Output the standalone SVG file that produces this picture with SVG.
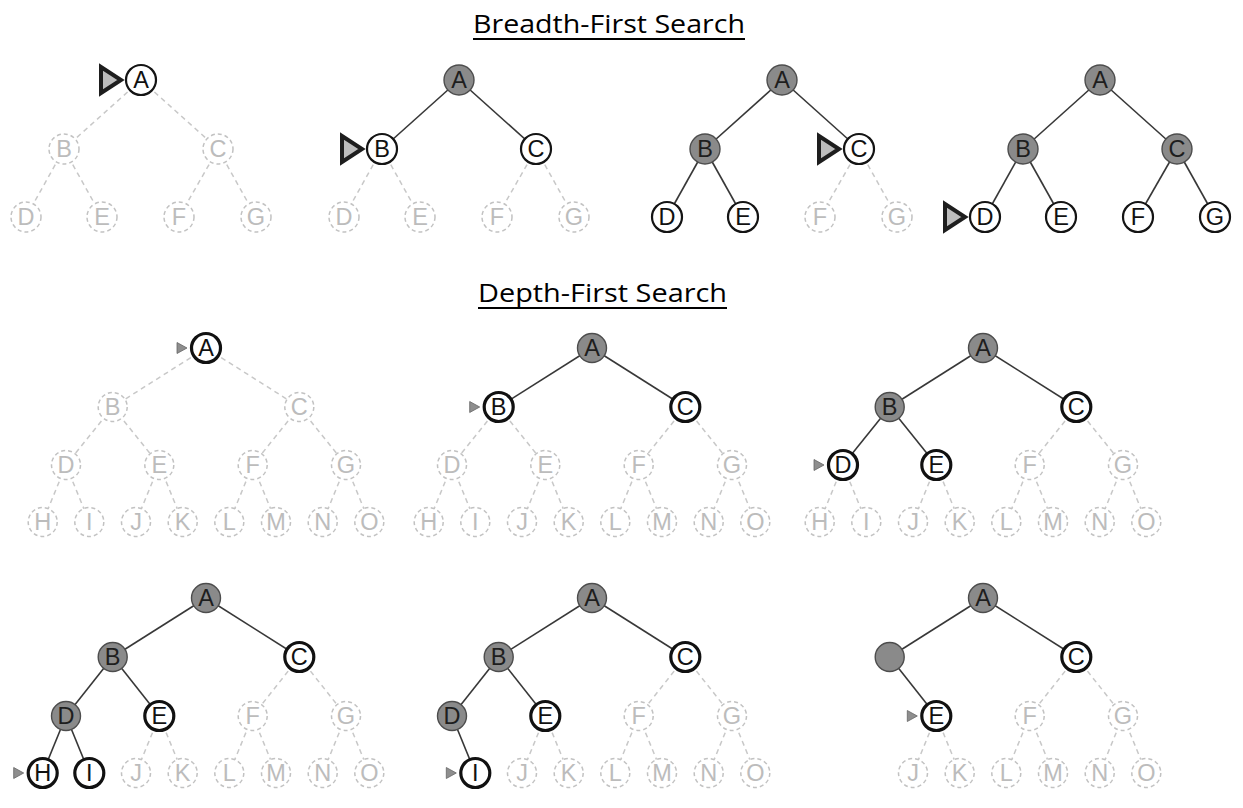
<svg xmlns="http://www.w3.org/2000/svg" width="1243" height="808" viewBox="0 0 1243 808">
<style>
.title{font-family:"Open Sans","Liberation Sans",sans-serif;font-size:26px;fill:#000;text-anchor:middle}
.ul{stroke:#000;stroke-width:2}
.n text{font-family:"Liberation Sans",Arial,sans-serif;font-size:23.5px;text-anchor:middle}
.v circle{fill:#8a8a8a;stroke:#4d4d4d;stroke-width:1.4}
.v text{fill:#1e1e1e}
.f circle{fill:#fff;stroke:#141414;stroke-width:2.2}
.fd circle{fill:#fff;stroke:#111;stroke-width:3.2}
.f text,.fd text{fill:#111}
.u circle{fill:#fff;stroke:#c2c2c2;stroke-width:1.5;stroke-dasharray:4 3}
.u text{fill:#bcbcbc}
.es{stroke:#383838;stroke-width:1.6}
.ed{stroke:#c8c8c8;stroke-width:1.5;stroke-dasharray:5 4}
.pb{fill:#bdbdbd;stroke:#1e1e1e;stroke-width:4}
.pd{fill:#8e8e8e;stroke:#666;stroke-width:0.8}
</style>
<rect width="1243" height="808" fill="#fff"/>
<g id="titles">
<text class="title" x="609" y="33" textLength="272" lengthAdjust="spacingAndGlyphs">Breadth-First Search</text>
<line class="ul" x1="473" y1="39" x2="745" y2="39"/>
<text class="title" x="602.5" y="302" textLength="249" lengthAdjust="spacingAndGlyphs">Depth-First Search</text>
<line class="ul" x1="478" y1="308" x2="727" y2="308"/>
</g>
<g id="connectors">
<line class="ed" x1="141" y1="80" x2="64" y2="149"/><line class="ed" x1="141" y1="80" x2="218" y2="149"/>
<line class="ed" x1="64" y1="149" x2="26" y2="217"/><line class="ed" x1="64" y1="149" x2="102" y2="217"/>
<line class="ed" x1="218" y1="149" x2="179" y2="217"/><line class="ed" x1="218" y1="149" x2="256" y2="217"/>
<line class="es" x1="459" y1="80" x2="382" y2="149"/><line class="es" x1="459" y1="80" x2="536" y2="149"/>
<line class="ed" x1="382" y1="149" x2="344" y2="217"/><line class="ed" x1="382" y1="149" x2="420" y2="217"/>
<line class="ed" x1="536" y1="149" x2="497" y2="217"/><line class="ed" x1="536" y1="149" x2="574" y2="217"/>
<line class="es" x1="782" y1="80" x2="705" y2="149"/><line class="es" x1="782" y1="80" x2="859" y2="149"/>
<line class="es" x1="705" y1="149" x2="667" y2="217"/><line class="es" x1="705" y1="149" x2="743" y2="217"/>
<line class="ed" x1="859" y1="149" x2="820" y2="217"/><line class="ed" x1="859" y1="149" x2="897" y2="217"/>
<line class="es" x1="1100" y1="80" x2="1023" y2="149"/><line class="es" x1="1100" y1="80" x2="1177" y2="149"/>
<line class="es" x1="1023" y1="149" x2="985" y2="217"/><line class="es" x1="1023" y1="149" x2="1061" y2="217"/>
<line class="es" x1="1177" y1="149" x2="1138" y2="217"/><line class="es" x1="1177" y1="149" x2="1215" y2="217"/>
<line class="ed" x1="206" y1="348" x2="112.7" y2="407"/><line class="ed" x1="206" y1="348" x2="299.3" y2="407"/>
<line class="ed" x1="112.7" y1="407" x2="66" y2="465"/><line class="ed" x1="112.7" y1="407" x2="159.3" y2="465"/>
<line class="ed" x1="299.3" y1="407" x2="252.7" y2="465"/><line class="ed" x1="299.3" y1="407" x2="346" y2="465"/>
<line class="ed" x1="66" y1="465" x2="42.7" y2="522"/><line class="ed" x1="66" y1="465" x2="89.3" y2="522"/>
<line class="ed" x1="159.3" y1="465" x2="136" y2="522"/><line class="ed" x1="159.3" y1="465" x2="182.7" y2="522"/>
<line class="ed" x1="252.7" y1="465" x2="229.3" y2="522"/><line class="ed" x1="252.7" y1="465" x2="276" y2="522"/>
<line class="ed" x1="346" y1="465" x2="322.7" y2="522"/><line class="ed" x1="346" y1="465" x2="369.3" y2="522"/>
<line class="es" x1="592" y1="348" x2="498.7" y2="407"/><line class="es" x1="592" y1="348" x2="685.3" y2="407"/>
<line class="ed" x1="498.7" y1="407" x2="452" y2="465"/><line class="ed" x1="498.7" y1="407" x2="545.3" y2="465"/>
<line class="ed" x1="685.3" y1="407" x2="638.7" y2="465"/><line class="ed" x1="685.3" y1="407" x2="732" y2="465"/>
<line class="ed" x1="452" y1="465" x2="428.7" y2="522"/><line class="ed" x1="452" y1="465" x2="475.3" y2="522"/>
<line class="ed" x1="545.3" y1="465" x2="522" y2="522"/><line class="ed" x1="545.3" y1="465" x2="568.7" y2="522"/>
<line class="ed" x1="638.7" y1="465" x2="615.3" y2="522"/><line class="ed" x1="638.7" y1="465" x2="662" y2="522"/>
<line class="ed" x1="732" y1="465" x2="708.7" y2="522"/><line class="ed" x1="732" y1="465" x2="755.3" y2="522"/>
<line class="es" x1="983" y1="348" x2="889.7" y2="407"/><line class="es" x1="983" y1="348" x2="1076.3" y2="407"/>
<line class="es" x1="889.7" y1="407" x2="843" y2="465"/><line class="es" x1="889.7" y1="407" x2="936.3" y2="465"/>
<line class="ed" x1="1076.3" y1="407" x2="1029.7" y2="465"/><line class="ed" x1="1076.3" y1="407" x2="1123" y2="465"/>
<line class="ed" x1="843" y1="465" x2="819.7" y2="522"/><line class="ed" x1="843" y1="465" x2="866.3" y2="522"/>
<line class="ed" x1="936.3" y1="465" x2="913" y2="522"/><line class="ed" x1="936.3" y1="465" x2="959.7" y2="522"/>
<line class="ed" x1="1029.7" y1="465" x2="1006.3" y2="522"/><line class="ed" x1="1029.7" y1="465" x2="1053" y2="522"/>
<line class="ed" x1="1123" y1="465" x2="1099.7" y2="522"/><line class="ed" x1="1123" y1="465" x2="1146.3" y2="522"/>
<line class="es" x1="206" y1="598" x2="112.7" y2="657"/><line class="es" x1="206" y1="598" x2="299.3" y2="657"/>
<line class="es" x1="112.7" y1="657" x2="66" y2="716"/><line class="es" x1="112.7" y1="657" x2="159.3" y2="716"/>
<line class="ed" x1="299.3" y1="657" x2="252.7" y2="716"/><line class="ed" x1="299.3" y1="657" x2="346" y2="716"/>
<line class="es" x1="66" y1="716" x2="42.7" y2="773"/><line class="es" x1="66" y1="716" x2="89.3" y2="773"/>
<line class="ed" x1="159.3" y1="716" x2="136" y2="773"/><line class="ed" x1="159.3" y1="716" x2="182.7" y2="773"/>
<line class="ed" x1="252.7" y1="716" x2="229.3" y2="773"/><line class="ed" x1="252.7" y1="716" x2="276" y2="773"/>
<line class="ed" x1="346" y1="716" x2="322.7" y2="773"/><line class="ed" x1="346" y1="716" x2="369.3" y2="773"/>
<line class="es" x1="592" y1="598" x2="498.7" y2="657"/><line class="es" x1="592" y1="598" x2="685.3" y2="657"/>
<line class="es" x1="498.7" y1="657" x2="452" y2="716"/><line class="es" x1="498.7" y1="657" x2="545.3" y2="716"/>
<line class="ed" x1="685.3" y1="657" x2="638.7" y2="716"/><line class="ed" x1="685.3" y1="657" x2="732" y2="716"/>
<line class="es" x1="452" y1="716" x2="475.3" y2="773"/>
<line class="ed" x1="545.3" y1="716" x2="522" y2="773"/><line class="ed" x1="545.3" y1="716" x2="568.7" y2="773"/>
<line class="ed" x1="638.7" y1="716" x2="615.3" y2="773"/><line class="ed" x1="638.7" y1="716" x2="662" y2="773"/>
<line class="ed" x1="732" y1="716" x2="708.7" y2="773"/><line class="ed" x1="732" y1="716" x2="755.3" y2="773"/>
<line class="es" x1="983" y1="598" x2="889.7" y2="657"/><line class="es" x1="983" y1="598" x2="1076.3" y2="657"/>
<line class="es" x1="889.7" y1="657" x2="936.3" y2="716"/>
<line class="ed" x1="1076.3" y1="657" x2="1029.7" y2="716"/><line class="ed" x1="1076.3" y1="657" x2="1123" y2="716"/>
<line class="ed" x1="936.3" y1="716" x2="913" y2="773"/><line class="ed" x1="936.3" y1="716" x2="959.7" y2="773"/>
<line class="ed" x1="1029.7" y1="716" x2="1006.3" y2="773"/><line class="ed" x1="1029.7" y1="716" x2="1053" y2="773"/>
<line class="ed" x1="1123" y1="716" x2="1099.7" y2="773"/><line class="ed" x1="1123" y1="716" x2="1146.3" y2="773"/>
</g>
<g id="pointers">
<polygon class="pb" points="101,67 101,93 121,80"/>
<polygon class="pb" points="342,136 342,162 362,149"/>
<polygon class="pb" points="819,136 819,162 839,149"/>
<polygon class="pb" points="945,204 945,230 965,217"/>
<polygon class="pd" points="177,342.5 177,353.5 187,348"/>
<polygon class="pd" points="469.7,401.5 469.7,412.5 479.7,407"/>
<polygon class="pd" points="814,459.5 814,470.5 824,465"/>
<polygon class="pd" points="13.7,767.5 13.7,778.5 23.7,773"/>
<polygon class="pd" points="446.3,767.5 446.3,778.5 456.3,773"/>
<polygon class="pd" points="907.3,710.5 907.3,721.5 917.3,716"/>
</g>
<g id="bfs1-A" class="n f"><circle cx="141" cy="80" r="15"/><text x="141" y="88.4">A</text></g>
<g id="bfs1-B" class="n u"><circle cx="64" cy="149" r="15"/><text x="64" y="157.4">B</text></g>
<g id="bfs1-C" class="n u"><circle cx="218" cy="149" r="15"/><text x="218" y="157.4">C</text></g>
<g id="bfs1-D" class="n u"><circle cx="26" cy="217" r="15"/><text x="26" y="225.4">D</text></g>
<g id="bfs1-E" class="n u"><circle cx="102" cy="217" r="15"/><text x="102" y="225.4">E</text></g>
<g id="bfs1-F" class="n u"><circle cx="179" cy="217" r="15"/><text x="179" y="225.4">F</text></g>
<g id="bfs1-G" class="n u"><circle cx="256" cy="217" r="15"/><text x="256" y="225.4">G</text></g>
<g id="bfs2-A" class="n v"><circle cx="459" cy="80" r="15"/><text x="459" y="88.4">A</text></g>
<g id="bfs2-B" class="n f"><circle cx="382" cy="149" r="15"/><text x="382" y="157.4">B</text></g>
<g id="bfs2-C" class="n f"><circle cx="536" cy="149" r="15"/><text x="536" y="157.4">C</text></g>
<g id="bfs2-D" class="n u"><circle cx="344" cy="217" r="15"/><text x="344" y="225.4">D</text></g>
<g id="bfs2-E" class="n u"><circle cx="420" cy="217" r="15"/><text x="420" y="225.4">E</text></g>
<g id="bfs2-F" class="n u"><circle cx="497" cy="217" r="15"/><text x="497" y="225.4">F</text></g>
<g id="bfs2-G" class="n u"><circle cx="574" cy="217" r="15"/><text x="574" y="225.4">G</text></g>
<g id="bfs3-A" class="n v"><circle cx="782" cy="80" r="15"/><text x="782" y="88.4">A</text></g>
<g id="bfs3-B" class="n v"><circle cx="705" cy="149" r="15"/><text x="705" y="157.4">B</text></g>
<g id="bfs3-C" class="n f"><circle cx="859" cy="149" r="15"/><text x="859" y="157.4">C</text></g>
<g id="bfs3-D" class="n f"><circle cx="667" cy="217" r="15"/><text x="667" y="225.4">D</text></g>
<g id="bfs3-E" class="n f"><circle cx="743" cy="217" r="15"/><text x="743" y="225.4">E</text></g>
<g id="bfs3-F" class="n u"><circle cx="820" cy="217" r="15"/><text x="820" y="225.4">F</text></g>
<g id="bfs3-G" class="n u"><circle cx="897" cy="217" r="15"/><text x="897" y="225.4">G</text></g>
<g id="bfs4-A" class="n v"><circle cx="1100" cy="80" r="15"/><text x="1100" y="88.4">A</text></g>
<g id="bfs4-B" class="n v"><circle cx="1023" cy="149" r="15"/><text x="1023" y="157.4">B</text></g>
<g id="bfs4-C" class="n v"><circle cx="1177" cy="149" r="15"/><text x="1177" y="157.4">C</text></g>
<g id="bfs4-D" class="n f"><circle cx="985" cy="217" r="15"/><text x="985" y="225.4">D</text></g>
<g id="bfs4-E" class="n f"><circle cx="1061" cy="217" r="15"/><text x="1061" y="225.4">E</text></g>
<g id="bfs4-F" class="n f"><circle cx="1138" cy="217" r="15"/><text x="1138" y="225.4">F</text></g>
<g id="bfs4-G" class="n f"><circle cx="1215" cy="217" r="15"/><text x="1215" y="225.4">G</text></g>
<g id="dfs1-A" class="n fd"><circle cx="206" cy="348" r="14.5"/><text x="206" y="356.4">A</text></g>
<g id="dfs1-B" class="n u"><circle cx="112.7" cy="407" r="14.5"/><text x="112.7" y="415.4">B</text></g>
<g id="dfs1-C" class="n u"><circle cx="299.3" cy="407" r="14.5"/><text x="299.3" y="415.4">C</text></g>
<g id="dfs1-D" class="n u"><circle cx="66" cy="465" r="14.5"/><text x="66" y="473.4">D</text></g>
<g id="dfs1-E" class="n u"><circle cx="159.3" cy="465" r="14.5"/><text x="159.3" y="473.4">E</text></g>
<g id="dfs1-F" class="n u"><circle cx="252.7" cy="465" r="14.5"/><text x="252.7" y="473.4">F</text></g>
<g id="dfs1-G" class="n u"><circle cx="346" cy="465" r="14.5"/><text x="346" y="473.4">G</text></g>
<g id="dfs1-H" class="n u"><circle cx="42.7" cy="522" r="14.5"/><text x="42.7" y="530.4">H</text></g>
<g id="dfs1-I" class="n u"><circle cx="89.3" cy="522" r="14.5"/><text x="89.3" y="530.4">I</text></g>
<g id="dfs1-J" class="n u"><circle cx="136" cy="522" r="14.5"/><text x="136" y="530.4">J</text></g>
<g id="dfs1-K" class="n u"><circle cx="182.7" cy="522" r="14.5"/><text x="182.7" y="530.4">K</text></g>
<g id="dfs1-L" class="n u"><circle cx="229.3" cy="522" r="14.5"/><text x="229.3" y="530.4">L</text></g>
<g id="dfs1-M" class="n u"><circle cx="276" cy="522" r="14.5"/><text x="276" y="530.4">M</text></g>
<g id="dfs1-N" class="n u"><circle cx="322.7" cy="522" r="14.5"/><text x="322.7" y="530.4">N</text></g>
<g id="dfs1-O" class="n u"><circle cx="369.3" cy="522" r="14.5"/><text x="369.3" y="530.4">O</text></g>
<g id="dfs2-A" class="n v"><circle cx="592" cy="348" r="14.5"/><text x="592" y="356.4">A</text></g>
<g id="dfs2-B" class="n fd"><circle cx="498.7" cy="407" r="14.5"/><text x="498.7" y="415.4">B</text></g>
<g id="dfs2-C" class="n fd"><circle cx="685.3" cy="407" r="14.5"/><text x="685.3" y="415.4">C</text></g>
<g id="dfs2-D" class="n u"><circle cx="452" cy="465" r="14.5"/><text x="452" y="473.4">D</text></g>
<g id="dfs2-E" class="n u"><circle cx="545.3" cy="465" r="14.5"/><text x="545.3" y="473.4">E</text></g>
<g id="dfs2-F" class="n u"><circle cx="638.7" cy="465" r="14.5"/><text x="638.7" y="473.4">F</text></g>
<g id="dfs2-G" class="n u"><circle cx="732" cy="465" r="14.5"/><text x="732" y="473.4">G</text></g>
<g id="dfs2-H" class="n u"><circle cx="428.7" cy="522" r="14.5"/><text x="428.7" y="530.4">H</text></g>
<g id="dfs2-I" class="n u"><circle cx="475.3" cy="522" r="14.5"/><text x="475.3" y="530.4">I</text></g>
<g id="dfs2-J" class="n u"><circle cx="522" cy="522" r="14.5"/><text x="522" y="530.4">J</text></g>
<g id="dfs2-K" class="n u"><circle cx="568.7" cy="522" r="14.5"/><text x="568.7" y="530.4">K</text></g>
<g id="dfs2-L" class="n u"><circle cx="615.3" cy="522" r="14.5"/><text x="615.3" y="530.4">L</text></g>
<g id="dfs2-M" class="n u"><circle cx="662" cy="522" r="14.5"/><text x="662" y="530.4">M</text></g>
<g id="dfs2-N" class="n u"><circle cx="708.7" cy="522" r="14.5"/><text x="708.7" y="530.4">N</text></g>
<g id="dfs2-O" class="n u"><circle cx="755.3" cy="522" r="14.5"/><text x="755.3" y="530.4">O</text></g>
<g id="dfs3-A" class="n v"><circle cx="983" cy="348" r="14.5"/><text x="983" y="356.4">A</text></g>
<g id="dfs3-B" class="n v"><circle cx="889.7" cy="407" r="14.5"/><text x="889.7" y="415.4">B</text></g>
<g id="dfs3-C" class="n fd"><circle cx="1076.3" cy="407" r="14.5"/><text x="1076.3" y="415.4">C</text></g>
<g id="dfs3-D" class="n fd"><circle cx="843" cy="465" r="14.5"/><text x="843" y="473.4">D</text></g>
<g id="dfs3-E" class="n fd"><circle cx="936.3" cy="465" r="14.5"/><text x="936.3" y="473.4">E</text></g>
<g id="dfs3-F" class="n u"><circle cx="1029.7" cy="465" r="14.5"/><text x="1029.7" y="473.4">F</text></g>
<g id="dfs3-G" class="n u"><circle cx="1123" cy="465" r="14.5"/><text x="1123" y="473.4">G</text></g>
<g id="dfs3-H" class="n u"><circle cx="819.7" cy="522" r="14.5"/><text x="819.7" y="530.4">H</text></g>
<g id="dfs3-I" class="n u"><circle cx="866.3" cy="522" r="14.5"/><text x="866.3" y="530.4">I</text></g>
<g id="dfs3-J" class="n u"><circle cx="913" cy="522" r="14.5"/><text x="913" y="530.4">J</text></g>
<g id="dfs3-K" class="n u"><circle cx="959.7" cy="522" r="14.5"/><text x="959.7" y="530.4">K</text></g>
<g id="dfs3-L" class="n u"><circle cx="1006.3" cy="522" r="14.5"/><text x="1006.3" y="530.4">L</text></g>
<g id="dfs3-M" class="n u"><circle cx="1053" cy="522" r="14.5"/><text x="1053" y="530.4">M</text></g>
<g id="dfs3-N" class="n u"><circle cx="1099.7" cy="522" r="14.5"/><text x="1099.7" y="530.4">N</text></g>
<g id="dfs3-O" class="n u"><circle cx="1146.3" cy="522" r="14.5"/><text x="1146.3" y="530.4">O</text></g>
<g id="dfs4-A" class="n v"><circle cx="206" cy="598" r="14.5"/><text x="206" y="606.4">A</text></g>
<g id="dfs4-B" class="n v"><circle cx="112.7" cy="657" r="14.5"/><text x="112.7" y="665.4">B</text></g>
<g id="dfs4-C" class="n fd"><circle cx="299.3" cy="657" r="14.5"/><text x="299.3" y="665.4">C</text></g>
<g id="dfs4-D" class="n v"><circle cx="66" cy="716" r="14.5"/><text x="66" y="724.4">D</text></g>
<g id="dfs4-E" class="n fd"><circle cx="159.3" cy="716" r="14.5"/><text x="159.3" y="724.4">E</text></g>
<g id="dfs4-F" class="n u"><circle cx="252.7" cy="716" r="14.5"/><text x="252.7" y="724.4">F</text></g>
<g id="dfs4-G" class="n u"><circle cx="346" cy="716" r="14.5"/><text x="346" y="724.4">G</text></g>
<g id="dfs4-H" class="n fd"><circle cx="42.7" cy="773" r="14.5"/><text x="42.7" y="781.4">H</text></g>
<g id="dfs4-I" class="n fd"><circle cx="89.3" cy="773" r="14.5"/><text x="89.3" y="781.4">I</text></g>
<g id="dfs4-J" class="n u"><circle cx="136" cy="773" r="14.5"/><text x="136" y="781.4">J</text></g>
<g id="dfs4-K" class="n u"><circle cx="182.7" cy="773" r="14.5"/><text x="182.7" y="781.4">K</text></g>
<g id="dfs4-L" class="n u"><circle cx="229.3" cy="773" r="14.5"/><text x="229.3" y="781.4">L</text></g>
<g id="dfs4-M" class="n u"><circle cx="276" cy="773" r="14.5"/><text x="276" y="781.4">M</text></g>
<g id="dfs4-N" class="n u"><circle cx="322.7" cy="773" r="14.5"/><text x="322.7" y="781.4">N</text></g>
<g id="dfs4-O" class="n u"><circle cx="369.3" cy="773" r="14.5"/><text x="369.3" y="781.4">O</text></g>
<g id="dfs5-A" class="n v"><circle cx="592" cy="598" r="14.5"/><text x="592" y="606.4">A</text></g>
<g id="dfs5-B" class="n v"><circle cx="498.7" cy="657" r="14.5"/><text x="498.7" y="665.4">B</text></g>
<g id="dfs5-C" class="n fd"><circle cx="685.3" cy="657" r="14.5"/><text x="685.3" y="665.4">C</text></g>
<g id="dfs5-D" class="n v"><circle cx="452" cy="716" r="14.5"/><text x="452" y="724.4">D</text></g>
<g id="dfs5-E" class="n fd"><circle cx="545.3" cy="716" r="14.5"/><text x="545.3" y="724.4">E</text></g>
<g id="dfs5-F" class="n u"><circle cx="638.7" cy="716" r="14.5"/><text x="638.7" y="724.4">F</text></g>
<g id="dfs5-G" class="n u"><circle cx="732" cy="716" r="14.5"/><text x="732" y="724.4">G</text></g>
<g id="dfs5-I" class="n fd"><circle cx="475.3" cy="773" r="14.5"/><text x="475.3" y="781.4">I</text></g>
<g id="dfs5-J" class="n u"><circle cx="522" cy="773" r="14.5"/><text x="522" y="781.4">J</text></g>
<g id="dfs5-K" class="n u"><circle cx="568.7" cy="773" r="14.5"/><text x="568.7" y="781.4">K</text></g>
<g id="dfs5-L" class="n u"><circle cx="615.3" cy="773" r="14.5"/><text x="615.3" y="781.4">L</text></g>
<g id="dfs5-M" class="n u"><circle cx="662" cy="773" r="14.5"/><text x="662" y="781.4">M</text></g>
<g id="dfs5-N" class="n u"><circle cx="708.7" cy="773" r="14.5"/><text x="708.7" y="781.4">N</text></g>
<g id="dfs5-O" class="n u"><circle cx="755.3" cy="773" r="14.5"/><text x="755.3" y="781.4">O</text></g>
<g id="dfs6-A" class="n v"><circle cx="983" cy="598" r="14.5"/><text x="983" y="606.4">A</text></g>
<g id="dfs6-B" class="n v"><circle cx="889.7" cy="657" r="14.5"/></g>
<g id="dfs6-C" class="n fd"><circle cx="1076.3" cy="657" r="14.5"/><text x="1076.3" y="665.4">C</text></g>
<g id="dfs6-E" class="n fd"><circle cx="936.3" cy="716" r="14.5"/><text x="936.3" y="724.4">E</text></g>
<g id="dfs6-F" class="n u"><circle cx="1029.7" cy="716" r="14.5"/><text x="1029.7" y="724.4">F</text></g>
<g id="dfs6-G" class="n u"><circle cx="1123" cy="716" r="14.5"/><text x="1123" y="724.4">G</text></g>
<g id="dfs6-J" class="n u"><circle cx="913" cy="773" r="14.5"/><text x="913" y="781.4">J</text></g>
<g id="dfs6-K" class="n u"><circle cx="959.7" cy="773" r="14.5"/><text x="959.7" y="781.4">K</text></g>
<g id="dfs6-L" class="n u"><circle cx="1006.3" cy="773" r="14.5"/><text x="1006.3" y="781.4">L</text></g>
<g id="dfs6-M" class="n u"><circle cx="1053" cy="773" r="14.5"/><text x="1053" y="781.4">M</text></g>
<g id="dfs6-N" class="n u"><circle cx="1099.7" cy="773" r="14.5"/><text x="1099.7" y="781.4">N</text></g>
<g id="dfs6-O" class="n u"><circle cx="1146.3" cy="773" r="14.5"/><text x="1146.3" y="781.4">O</text></g>
</svg>
